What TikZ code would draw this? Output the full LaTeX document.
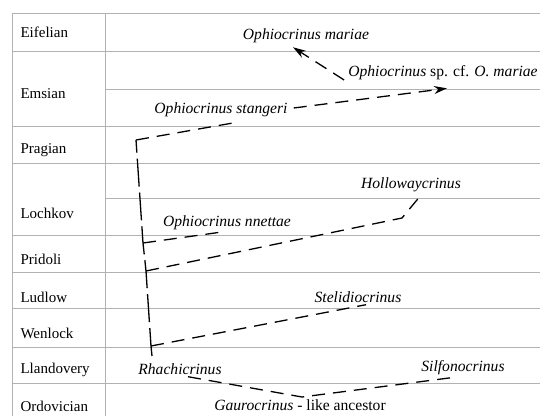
\documentclass[tikz,border=0pt]{standalone}
\usepackage{fontspec}
\setmainfont{Liberation Serif}
\usetikzlibrary{arrows.meta, calc}

\begin{document}
\begin{tikzpicture}[
  x=1pt, y=-1pt,
  stage/.style={anchor=west, font=\fontsize{15}{17}\selectfont},
  taxon/.style={font=\fontsize{15.6}{17}\selectfont\itshape, inner sep=1pt},
  grid/.style={gray!60, line width=0.8pt},
  branch/.style={line width=1.3pt, dash pattern=on 13pt off 8pt},
  stem/.style={line width=1.3pt, dash pattern=on 28pt off 6pt},
  evolve/.style={branch, -{Stealth[length=13pt, width=8pt]}},
]
  \useasboundingbox (0,0) rectangle (544,416);

  % ── Table ──
  \draw[grid] (12,13) -- (540,13);
  \draw[grid] (12,13) -- (12,416);
  \draw[grid] (105,13) -- (105,416);
  \foreach \y in {51,126,163,235,272,308,347,383}
    \draw[grid] (12,\y) -- (540,\y);
  \foreach \y in {89,198}
    \draw[grid] (105,\y) -- (540,\y);

  % ── Stages ──
  \node[stage] at (17,32)  {Eifelian};
  \node[stage] at (17,94)  {Emsian};
  \node[stage] at (17,150) {Pragian};
  \node[stage] at (17,213) {Lochkov};
  \node[stage] at (17,259) {Pridoli};
  \node[stage] at (17,297) {Ludlow};
  \node[stage] at (17,333) {Wenlock};
  \node[stage] at (17,370) {Llandovery};
  \node[stage] at (17,406) {Ordovician};

  % ── Taxa ──
  \node[taxon] (mariae)   at (306,36)  {Ophiocrinus mariae};
  \node[taxon] (cfmariae) at (443,73)  {Ophiocrinus {\upshape sp. cf.} O. mariae};
  \node[taxon] (stangeri) at (221,110) {Ophiocrinus stangeri};
  \node[taxon] (hollow)   at (411,185) {Hollowaycrinus};
  \node[taxon] (nnettae)  at (227,223) {Ophiocrinus nnettae};
  \node[taxon] (stelid)   at (358,297) {Stelidiocrinus};
  \node[taxon] (rhachi)   at (180,369) {Rhachicrinus};
  \node[taxon] (silfono)  at (463,368) {Silfonocrinus};
  \node[font=\fontsize{15.6}{17}\selectfont, inner sep=1pt] (ancestor) at (300,405)
    {\textit{Gaurocrinus} - like ancestor};

  % ── Stem ──
  \coordinate (top) at (136,140);
  \coordinate (b1)  at (143,243);
  \coordinate (b2)  at (146,271);
  \coordinate (b3)  at (151,346);
  \coordinate (bot) at (152,356);
  \coordinate (bend) at (402,218);
  \coordinate (vee) at (302,397);
  \draw[stem] (bot) -- (b3) -- (b2) -- (b1) -- (top);

  % ── Branches ──
  \draw[branch] (top) -- ([xshift=16pt, yshift=-4pt]stangeri.south);
  \draw[branch] (b1) -- ([xshift=-7pt, yshift=-1pt]nnettae.south);
  \draw[branch] (b2) -- (bend) -- ([xshift=9pt, yshift=-3pt]hollow.south);
  \draw[branch] (b3) -- ([xshift=8pt, yshift=-1pt]stelid.south);
  \draw[branch] ([xshift=8pt, yshift=-1pt]rhachi.south) -- (vee)
    -- ([xshift=-9pt, yshift=-1pt]silfono.south);

  % ── Arrows ──
  \draw[evolve] ([xshift=-3pt, yshift=-7pt]cfmariae.west) -- ([xshift=-13pt, yshift=-3pt]mariae.south);
  \draw[evolve] ([xshift=5pt, yshift=2pt]stangeri.east) -- ([xshift=4pt, yshift=-7pt]cfmariae.south);

\end{tikzpicture}
\end{document}
